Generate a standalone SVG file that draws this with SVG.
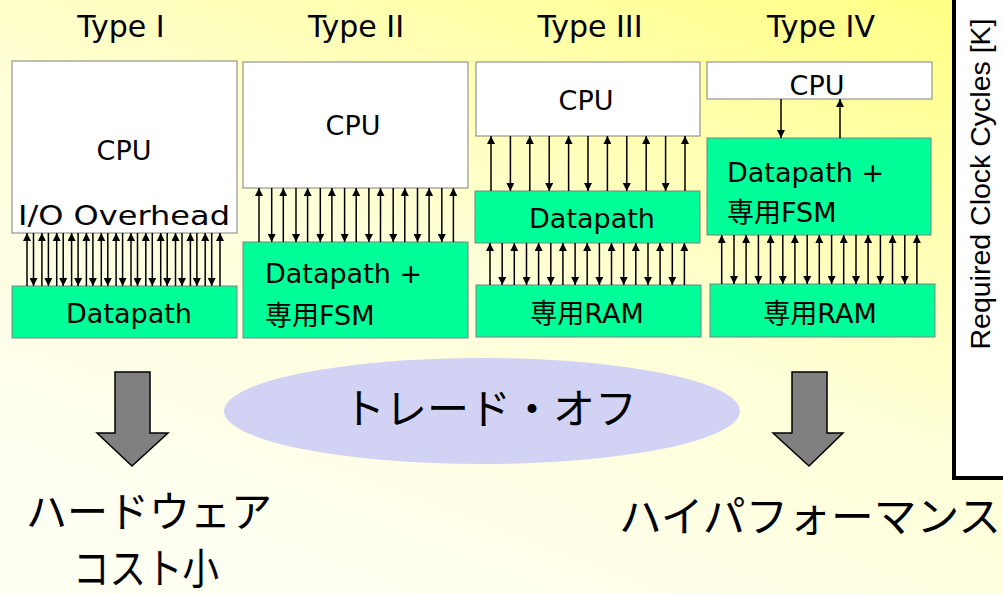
<svg xmlns="http://www.w3.org/2000/svg" width="1003" height="594" viewBox="0 0 1003 594">
<defs>
<linearGradient id="bg" x1="1" y1="0" x2="0.35" y2="1">
<stop offset="0" stop-color="#FFFF80"/>
<stop offset="0.55" stop-color="#FFFFD8"/>
<stop offset="1" stop-color="#FFFFF2"/>
</linearGradient>
<marker id="ah" viewBox="0 0 10 10" refX="10" refY="5" markerWidth="10" markerHeight="8" markerUnits="userSpaceOnUse" orient="auto">
<path d="M0,0 L10,5 L0,10 z" fill="#000"/>
</marker>
<style>
.box{fill:#FFFFFF;stroke:#808080;stroke-width:1}
.grn{fill:#00FF99;stroke:#808080;stroke-width:1}
.t{font-family:"DejaVu Sans","Noto Sans CJK JP",sans-serif;font-size:27px;fill:#000}
.ttl{font-family:"DejaVu Sans",sans-serif;font-size:30px;fill:#000;text-anchor:middle}
.jp{font-family:"Noto Sans CJK JP",sans-serif;font-size:42px;fill:#000}
.c{text-anchor:middle}
.ar line{stroke:#000;stroke-width:1.5;marker-end:url(#ah)}
.big{fill:#808080;stroke:#000;stroke-width:1.5;stroke-linejoin:miter}
</style>
</defs>
<rect x="0" y="0" width="1003" height="594" fill="url(#bg)"/>

<g id="axis">
<rect x="954" y="-10" width="60" height="488" fill="#FFFFFF" stroke="#000" stroke-width="4"/>
<text transform="translate(990,184) rotate(-90)" text-anchor="middle" font-family="'Liberation Sans',Arial,sans-serif" font-size="28.5" fill="#000">Required Clock Cycles [K]</text>
</g>

<g id="titles">
<text class="ttl" x="121" y="37">Type I</text>
<text class="ttl" x="356" y="37">Type II</text>
<text class="ttl" x="590" y="37">Type III</text>
<text class="ttl" x="821" y="37">Type IV</text>
</g>

<g id="type1-cpu">
<rect class="box" x="12" y="61" width="225" height="172"/>
<text class="t c" x="124" y="160">CPU</text>
<text class="t c" x="124" y="225" textLength="212" lengthAdjust="spacingAndGlyphs">I/O Overhead</text>
</g>
<g id="type1-datapath">
<rect class="grn" x="12" y="286" width="225" height="52"/>
<text class="t c" x="129" y="323">Datapath</text>
</g>

<g id="type2-cpu">
<rect class="box" x="243" y="62" width="225" height="126"/>
<text class="t c" x="353" y="135">CPU</text>
</g>
<g id="type2-datapath">
<rect class="grn" x="243" y="242" width="225" height="96"/>
<text class="t" x="265" y="283">Datapath +</text>
<text class="t" x="265" y="325">専用FSM</text>
</g>

<g id="type3-cpu">
<rect class="box" x="476" y="62" width="224" height="74"/>
<text class="t c" x="586" y="110">CPU</text>
</g>
<g id="type3-datapath">
<rect class="grn" x="475" y="191" width="225" height="52"/>
<text class="t c" x="592" y="228">Datapath</text>
</g>
<g id="type3-ram">
<rect class="grn" x="476" y="285" width="225" height="52"/>
<text class="t c" x="587" y="323">専用RAM</text>
</g>

<g id="type4-cpu">
<rect class="box" x="707" y="62" width="225" height="37"/>
<text class="t c" x="817" y="95">CPU</text>
</g>
<g id="type4-datapath">
<rect class="grn" x="707" y="138" width="224" height="97"/>
<text class="t" x="727" y="182">Datapath +</text>
<text class="t" x="727" y="222">専用FSM</text>
</g>
<g id="type4-ram">
<rect class="grn" x="710" y="284" width="225" height="53"/>
<text class="t c" x="820" y="323">専用RAM</text>
</g>

<g id="connectors" class="ar">
<!-- Type I -->
<line x1="27" y1="286" x2="27" y2="233"/><line x1="33.5" y1="233" x2="33.5" y2="286"/>
<line x1="41.9" y1="286" x2="41.9" y2="233"/><line x1="48.4" y1="233" x2="48.4" y2="286"/>
<line x1="56.7" y1="286" x2="56.7" y2="233"/><line x1="63.2" y1="233" x2="63.2" y2="286"/>
<line x1="71.6" y1="286" x2="71.6" y2="233"/><line x1="78.1" y1="233" x2="78.1" y2="286"/>
<line x1="86.4" y1="286" x2="86.4" y2="233"/><line x1="92.9" y1="233" x2="92.9" y2="286"/>
<line x1="101.3" y1="286" x2="101.3" y2="233"/><line x1="107.8" y1="233" x2="107.8" y2="286"/>
<line x1="116.1" y1="286" x2="116.1" y2="233"/><line x1="122.6" y1="233" x2="122.6" y2="286"/>
<line x1="131" y1="286" x2="131" y2="233"/><line x1="137.5" y1="233" x2="137.5" y2="286"/>
<line x1="145.8" y1="286" x2="145.8" y2="233"/><line x1="152.3" y1="233" x2="152.3" y2="286"/>
<line x1="160.7" y1="286" x2="160.7" y2="233"/><line x1="167.2" y1="233" x2="167.2" y2="286"/>
<line x1="175.5" y1="286" x2="175.5" y2="233"/><line x1="182" y1="233" x2="182" y2="286"/>
<line x1="190.4" y1="286" x2="190.4" y2="233"/><line x1="196.9" y1="233" x2="196.9" y2="286"/>
<line x1="205.2" y1="286" x2="205.2" y2="233"/><line x1="211.7" y1="233" x2="211.7" y2="286"/>
<line x1="220" y1="286" x2="220" y2="233"/>
<!-- Type II -->
<line x1="259" y1="242" x2="259" y2="188"/><line x1="271.7" y1="188" x2="271.7" y2="242"/>
<line x1="283.3" y1="242" x2="283.3" y2="188"/><line x1="296" y1="188" x2="296" y2="242"/>
<line x1="307.6" y1="242" x2="307.6" y2="188"/><line x1="320.3" y1="188" x2="320.3" y2="242"/>
<line x1="331.9" y1="242" x2="331.9" y2="188"/><line x1="344.6" y1="188" x2="344.6" y2="242"/>
<line x1="356.2" y1="242" x2="356.2" y2="188"/><line x1="368.9" y1="188" x2="368.9" y2="242"/>
<line x1="380.5" y1="242" x2="380.5" y2="188"/><line x1="393.2" y1="188" x2="393.2" y2="242"/>
<line x1="404.8" y1="242" x2="404.8" y2="188"/><line x1="417.5" y1="188" x2="417.5" y2="242"/>
<line x1="429.1" y1="242" x2="429.1" y2="188"/><line x1="441.8" y1="188" x2="441.8" y2="242"/>
<line x1="453.4" y1="242" x2="453.4" y2="188"/>
<!-- Type III CPU-Datapath -->
<line x1="491" y1="191" x2="491" y2="136"/><line x1="510.4" y1="136" x2="510.4" y2="191"/>
<line x1="529.8" y1="191" x2="529.8" y2="136"/><line x1="549.2" y1="136" x2="549.2" y2="191"/>
<line x1="568.6" y1="191" x2="568.6" y2="136"/><line x1="588" y1="136" x2="588" y2="191"/>
<line x1="607.4" y1="191" x2="607.4" y2="136"/><line x1="626.8" y1="136" x2="626.8" y2="191"/>
<line x1="646.2" y1="191" x2="646.2" y2="136"/><line x1="665.6" y1="136" x2="665.6" y2="191"/>
<line x1="685" y1="191" x2="685" y2="136"/>
<!-- Type III Datapath-RAM -->
<line x1="490" y1="285" x2="490" y2="243"/><line x1="502.2" y1="243" x2="502.2" y2="285"/>
<line x1="514.3" y1="285" x2="514.3" y2="243"/><line x1="526.5" y1="243" x2="526.5" y2="285"/>
<line x1="538.6" y1="285" x2="538.6" y2="243"/><line x1="550.8" y1="243" x2="550.8" y2="285"/>
<line x1="562.9" y1="285" x2="562.9" y2="243"/><line x1="575.1" y1="243" x2="575.1" y2="285"/>
<line x1="587.2" y1="285" x2="587.2" y2="243"/><line x1="599.4" y1="243" x2="599.4" y2="285"/>
<line x1="611.5" y1="285" x2="611.5" y2="243"/><line x1="623.7" y1="243" x2="623.7" y2="285"/>
<line x1="635.8" y1="285" x2="635.8" y2="243"/><line x1="648" y1="243" x2="648" y2="285"/>
<line x1="660.1" y1="285" x2="660.1" y2="243"/><line x1="672.3" y1="243" x2="672.3" y2="285"/>
<line x1="684.4" y1="285" x2="684.4" y2="243"/>
<!-- Type IV CPU-Datapath -->
<line x1="781" y1="99" x2="781" y2="138"/>
<line x1="840" y1="138" x2="840" y2="99"/>
<!-- Type IV Datapath-RAM -->
<line x1="721.7" y1="284" x2="721.7" y2="235"/><line x1="734" y1="235" x2="734" y2="284"/>
<line x1="746.1" y1="284" x2="746.1" y2="235"/><line x1="758.4" y1="235" x2="758.4" y2="284"/>
<line x1="770.5" y1="284" x2="770.5" y2="235"/><line x1="782.8" y1="235" x2="782.8" y2="284"/>
<line x1="794.9" y1="284" x2="794.9" y2="235"/><line x1="807.2" y1="235" x2="807.2" y2="284"/>
<line x1="819.3" y1="284" x2="819.3" y2="235"/><line x1="831.6" y1="235" x2="831.6" y2="284"/>
<line x1="843.7" y1="284" x2="843.7" y2="235"/><line x1="856" y1="235" x2="856" y2="284"/>
<line x1="868.1" y1="284" x2="868.1" y2="235"/><line x1="880.4" y1="235" x2="880.4" y2="284"/>
<line x1="892.5" y1="284" x2="892.5" y2="235"/><line x1="904.8" y1="235" x2="904.8" y2="284"/>
<line x1="916.9" y1="284" x2="916.9" y2="235"/>
</g>

<g id="tradeoff">
<ellipse cx="482" cy="411" rx="258" ry="53" fill="#D2D2F4"/>
<text class="jp c" x="490" y="424" font-size="37">トレード・オフ</text>
</g>

<g id="arrow-left">
<polygon class="big" points="115,372 150,372 150,433 168,433 132,466 97,433 115,433"/>
</g>
<g id="arrow-right">
<polygon class="big" points="792,372 827,372 827,433 843,433 809,466 773,433 792,433"/>
</g>

<g id="label-left">
<text class="jp" x="26" y="527" font-size="35" textLength="246" lengthAdjust="spacingAndGlyphs">ハードウェア</text>
<text class="jp c" x="146" y="584" font-size="35" textLength="146" lengthAdjust="spacingAndGlyphs">コスト小</text>
</g>
<g id="label-right">
<text class="jp" x="619" y="532" textLength="382" lengthAdjust="spacingAndGlyphs">ハイパフォーマンス</text>
</g>
</svg>
